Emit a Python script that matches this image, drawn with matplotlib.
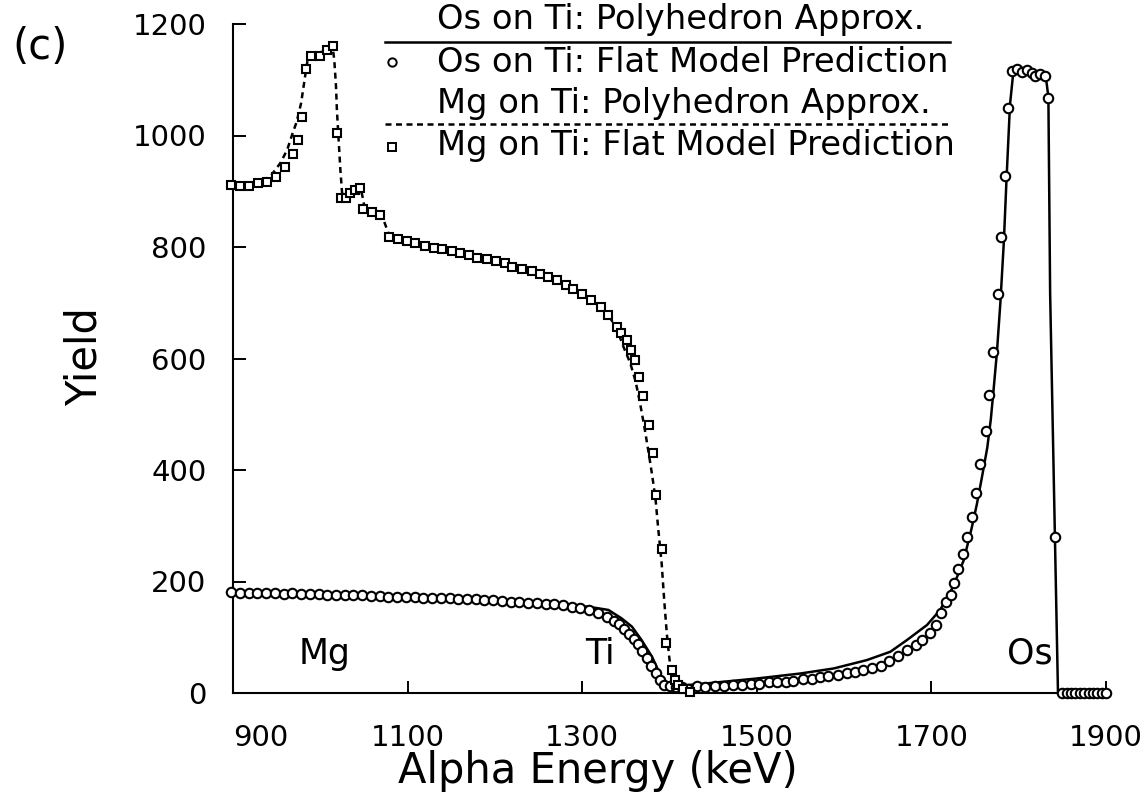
import matplotlib
matplotlib.use("Agg")
import matplotlib.pyplot as plt
from matplotlib.lines import Line2D

# ---------------- data ----------------
# Mg on Ti: flat model prediction (squares)
mg_flat_x = [898, 908, 918, 929, 939, 949, 960, 969, 974, 979, 984, 989, 1000, 1008, 1014, 1019,
             1024, 1029, 1034, 1040, 1045, 1049, 1059, 1068, 1079, 1089, 1099, 1109, 1120, 1130,
             1139, 1151, 1160, 1170, 1180, 1191, 1201, 1211, 1220, 1231, 1242, 1252, 1261, 1271,
             1281, 1290, 1300, 1310, 1321, 1330, 1340, 1345, 1351, 1356, 1361, 1365, 1370, 1376,
             1381, 1385, 1391, 1396, 1403, 1406, 1410, 1416, 1423]
mg_flat_y = [911, 910, 910, 914, 917, 926, 944, 967, 992, 1033, 1119, 1142, 1142, 1154, 1160, 1005,
             887, 887, 896, 902, 905, 869, 863, 858, 818, 814, 811, 807, 802, 799,
             796, 792, 789, 786, 781, 778, 775, 771, 765, 760, 757, 752, 747, 741,
             732, 724, 716, 705, 692, 678, 657, 645, 633, 615, 597, 566, 533, 481,
             431, 356, 258, 89, 41, 23, 14, 8, 2]

# Mg on Ti: polyhedron approximation (dashed line)
mg_poly_x = [898, 920, 935, 944, 954, 962, 967, 973, 978, 982, 986, 992, 1002, 1009, 1014, 1016,
             1018, 1019, 1021, 1023, 1025, 1028, 1036, 1046, 1048, 1051, 1070, 1074, 1078, 1086,
             1100, 1130, 1160, 1190, 1220, 1250, 1280, 1300, 1320, 1330, 1340, 1347, 1355, 1361,
             1365, 1368, 1372, 1376, 1380, 1384, 1387, 1391, 1394, 1397, 1400, 1403, 1407, 1412, 1420]
mg_poly_y = [910, 912, 920, 929, 950, 974, 998, 1025, 1058, 1100, 1141, 1147, 1150, 1156, 1159, 1136,
             1088, 1046, 992, 938, 896, 890, 899, 905, 893, 869, 857, 842, 825, 816,
             810, 800, 789, 778, 765, 751, 733, 717, 694, 678, 652, 622, 592, 560,
             530, 505, 470, 432, 392, 348, 296, 233, 165, 105, 60, 30, 12, 5, 2]

# Os on Ti: flat model prediction (circles)
os_flat_x = [898, 908, 918, 928, 938, 948, 958, 968, 978, 988, 998, 1008, 1018, 1028, 1038, 1048,
             1058, 1068, 1078, 1088, 1098, 1108, 1118, 1128, 1138, 1148, 1158, 1168, 1178, 1188,
             1198, 1208, 1218, 1228, 1238, 1248, 1258, 1268, 1278, 1288, 1298, 1308, 1318, 1328,
             1336, 1342, 1348, 1354, 1359, 1364, 1369, 1374, 1379, 1384, 1389, 1394, 1400, 1407,
             1414, 1421, 1431, 1441, 1452, 1463, 1473, 1483, 1493, 1503, 1514, 1523, 1533, 1542,
             1553, 1563, 1572, 1582, 1593, 1603, 1613, 1622, 1632, 1642, 1652, 1662, 1672, 1682,
             1689, 1698, 1705, 1711, 1717, 1722, 1726, 1731, 1736, 1741, 1746, 1751, 1756, 1762,
             1766, 1771, 1776, 1780, 1784, 1788, 1792, 1798, 1804, 1810, 1815, 1819, 1824, 1830,
             1834, 1842, 1850, 1855, 1860, 1865, 1870, 1875, 1880, 1885, 1890, 1895, 1900]
os_flat_y = [181, 180, 180, 179, 179, 179, 178, 179, 178, 177, 177, 176, 176, 176, 175, 175,
             174, 174, 173, 173, 172, 172, 171, 171, 170, 170, 169, 168, 168, 167,
             166, 165, 164, 163, 162, 161, 160, 159, 157, 155, 152, 148, 143, 137,
             130, 124, 115, 106, 97, 87, 75, 62, 49, 35, 23, 15, 12, 11,
             11, 8, 13, 11, 13, 13, 14, 14, 16, 17, 19, 20, 20, 22,
             25, 26, 28, 31, 32, 35, 38, 41, 44, 48, 57, 66, 77, 86,
             95, 108, 122, 143, 164, 176, 198, 222, 250, 280, 315, 358, 410, 470,
             535, 612, 716, 818, 928, 1049, 1116, 1120, 1114, 1118, 1112, 1107, 1110, 1107,
             1068, 280, 0, 0, 0, 0, 0, 0, 0, 0, 0, 0, 0]

# Os on Ti: polyhedron approximation (solid line)
os_poly_x = [898, 1000, 1100, 1200, 1280, 1310, 1330, 1345, 1357, 1368, 1380, 1387, 1395, 1403,
             1412, 1441, 1500, 1550, 1588, 1626, 1653, 1672, 1695, 1710, 1725, 1737, 1746, 1752,
             1758, 1764, 1768, 1771, 1775, 1779, 1783, 1786, 1790, 1794, 1800, 1810, 1820, 1830,
             1832, 1834, 1836, 1845, 1900]
os_poly_y = [179, 176, 172, 167, 160, 154, 149, 134, 119, 95, 65, 41, 17, 10,
             13, 17, 26, 35, 44, 59, 74, 95, 122, 149, 191, 238, 295, 338,
             388, 440, 490, 540, 610, 700, 810, 920, 1055, 1116, 1120, 1117, 1113, 1107,
             1094, 1069, 717, 0, 0]

x_ticks = [900, 1100, 1300, 1500, 1700, 1900]
y_ticks = [0, 200, 400, 600, 800, 1000, 1200]

legend_labels = ["Os on Ti: Polyhedron Approx.",
                 "Os on Ti: Flat Model Prediction",
                 "Mg on Ti: Polyhedron Approx.",
                 "Mg on Ti: Flat Model Prediction"]
peak_labels = ["Mg", "Ti", "Os"]
peak_label_x = [1005, 1320, 1813]

# ---------------- figure ----------------
W, H = 1146, 796
fig = plt.figure(figsize=(W / 100, H / 100), dpi=100)
ax = fig.add_axes([233 / W, 1 - 693 / H, (1106 - 233) / W, (693 - 24) / H])

lw_line = 1.8
dash = (0, (2.4, 1.8))
ax.plot(os_poly_x, os_poly_y, color="black", lw=lw_line, solid_joinstyle="round", zorder=2)
ax.plot(mg_poly_x, mg_poly_y, color="black", lw=lw_line, linestyle=dash, zorder=2)
ax.plot(os_flat_x, os_flat_y, linestyle="none", marker="o", ms=6.8, mfc="white",
        mec="black", mew=1.5, clip_on=False, zorder=3)
ax.plot(mg_flat_x, mg_flat_y, linestyle="none", marker="s", ms=6.4, mfc="white",
        mec="black", mew=1.5, clip_on=False, zorder=3)

ax.set_xlim(900, 1900)
ax.set_ylim(0, 1200)
ax.set_xticks(x_ticks)
ax.set_yticks(y_ticks)
ax.set_xticklabels([str(t) for t in x_ticks])
ax.set_yticklabels([str(t) for t in y_ticks])
ax.tick_params(direction="in", length=9, width=1.4, labelsize=21, color="black")
ax.tick_params(axis="x", pad=22)
ax.tick_params(axis="y", pad=19)
ax.get_xticklabels()[0].set_horizontalalignment("left")

for s in ["top", "right"]:
    ax.spines[s].set_visible(False)
for s in ["left", "bottom"]:
    ax.spines[s].set_linewidth(1.5)

fig.text(598 / W, 1 - 771 / H, "Alpha Energy (keV)", fontsize=30, ha="center", va="center")
fig.text(85 / W, 1 - 357 / H, "Yield", rotation=90, fontsize=30, ha="center", va="center")
fig.text(40 / W, 1 - 47 / H, "(c)", fontsize=30, ha="center", va="center")

for lab, lx in zip(peak_labels, peak_label_x):
    ax.text(lx, 70, lab, fontsize=25, ha="center", va="center")

# legend (drawn manually, text above sample lines like the original)
tx = 437 / W
ty = [20, 62, 104, 146]
for lab, yy in zip(legend_labels, ty):
    fig.text(tx, 1 - yy / H, lab, fontsize=24.3, ha="left", va="center")
fig.add_artist(Line2D([385 / W, 950 / W], [1 - 42 / H, 1 - 42 / H], color="black", lw=lw_line))
fig.add_artist(Line2D([385 / W, 950 / W], [1 - 124 / H, 1 - 124 / H], color="black", lw=lw_line,
                      linestyle=dash))
fig.add_artist(Line2D([392 / W], [1 - 62 / H], marker="o", ms=6, mfc="white", mec="black",
                      mew=1.4, linestyle="none"))
fig.add_artist(Line2D([392 / W], [1 - 147 / H], marker="s", ms=5.8, mfc="white", mec="black",
                      mew=1.4, linestyle="none"))

fig.savefig("out.png", dpi=100)
